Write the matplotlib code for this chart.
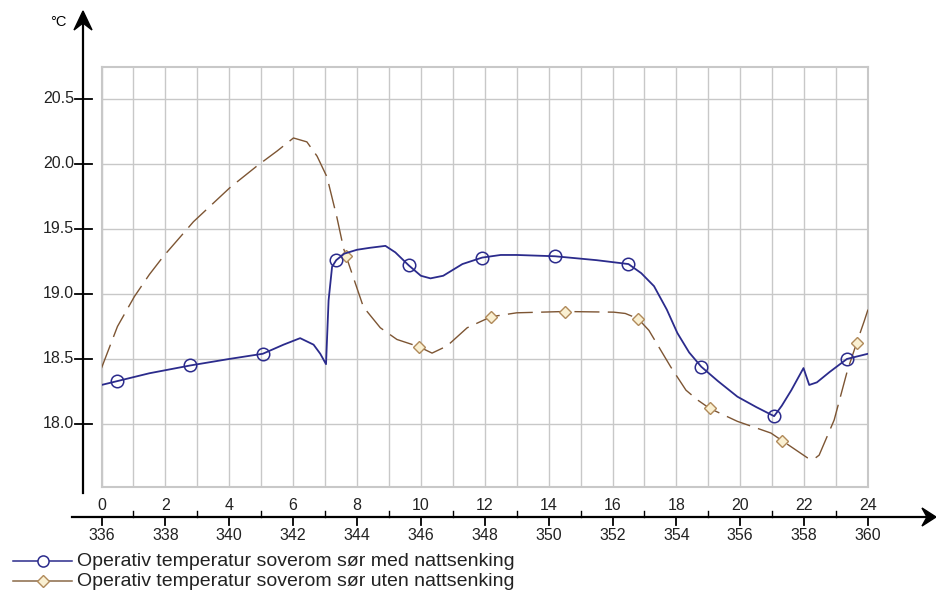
import matplotlib
matplotlib.use("Agg")
import matplotlib.pyplot as plt
import matplotlib.transforms as mtransforms
from matplotlib.lines import Line2D
from matplotlib.patches import Polygon

plt.rcParams["font.family"] = ["Liberation Sans", "DejaVu Sans"]

# ---- data -------------------------------------------------------------
hours_med = [0.0, 0.5, 1.5, 2.78, 4.0, 5.05, 5.7, 6.22, 6.64, 6.85, 7.03,
             7.11, 7.22, 7.35, 7.6, 8.0, 8.4, 8.89, 9.2, 9.62, 10.0, 10.3,
             10.7, 11.3, 11.92, 12.5, 13.0, 14.2, 15.5, 16.5, 16.9, 17.3,
             17.7, 18.03, 18.4, 18.78, 19.3, 19.91, 20.5, 21.06, 21.3, 21.6,
             21.98, 22.16, 22.4, 22.8, 23.34, 24.0]
temp_med = [18.30, 18.33, 18.39, 18.45, 18.50, 18.54, 18.61, 18.66, 18.61,
            18.54, 18.46, 18.95, 19.21, 19.26, 19.31, 19.34, 19.355, 19.37,
            19.32, 19.22, 19.14, 19.12, 19.14, 19.23, 19.28, 19.30, 19.30,
            19.29, 19.26, 19.23, 19.16, 19.06, 18.88, 18.70, 18.55, 18.44,
            18.33, 18.21, 18.13, 18.06, 18.14, 18.26, 18.43, 18.30, 18.32,
            18.40, 18.50, 18.54]
marks_med = [0.5, 2.78, 5.05, 7.35, 9.62, 11.92, 14.2, 16.5, 18.78, 21.06, 23.34]

hours_uten = [0.0, 0.5, 1.03, 1.5, 1.94, 2.88, 4.03, 4.87, 5.5, 6.01, 6.43,
              6.75, 7.06, 7.37, 7.58, 7.66, 8.2, 8.73, 9.25, 9.93, 10.35,
              10.82, 11.45, 12.2, 13.0, 14.5, 16.04, 16.4, 16.8, 17.14, 17.82,
              18.3, 18.66, 19.04, 19.91, 20.96, 21.32, 22.1, 22.31, 22.47,
              22.94, 23.36, 23.64, 23.88, 24.0]
temp_uten = [18.43, 18.75, 18.98, 19.15, 19.29, 19.556, 19.82, 19.985, 20.10,
             20.20, 20.17, 20.06, 19.90, 19.59, 19.35, 19.29, 18.90, 18.74,
             18.65, 18.595, 18.545, 18.60, 18.74, 18.825, 18.855, 18.865,
             18.86, 18.85, 18.81, 18.72, 18.44, 18.26, 18.185, 18.12, 18.02,
             17.93, 17.87, 17.74, 17.73, 17.76, 18.03, 18.415, 18.62, 18.79,
             18.88]
marks_uten = [7.66, 9.93, 12.2, 14.5, 16.8, 19.04, 21.32, 23.64]

y_ticks = [18.0, 18.5, 19.0, 19.5, 20.0, 20.5]
y_labels = ["18.0", "18.5", "19.0", "19.5", "20.0", "20.5"]
hour_ticks = list(range(0, 25, 2))
hour_labels = [str(h) for h in hour_ticks]
sim_labels = [str(336 + h) for h in hour_ticks]

name_med = "Operativ temperatur soverom sør med nattsenking"
name_uten = "Operativ temperatur soverom sør uten nattsenking"

# ---- styling ----------------------------------------------------------
W, H = 936, 595
C_MED = "#2b2b8c"
C_UTEN = "#7d5533"
C_UTEN_EDGE = "#b08a5a"
C_UTEN_FACE = "#faf0d2"
C_GRID = "#c8c8c8"


def fx(x):
    return x / W


def fy(y):
    return 1 - y / H


fig = plt.figure(figsize=(W / 100, H / 100), dpi=100)
fig.patch.set_facecolor("white")

ax = fig.add_axes([fx(101.5), fy(487), (868 - 101.5) / W, (487 - 67) / H])
ax.set_xlim(0, 24)
ax.set_ylim(17.515, 20.746)
ax.set_xticks(range(25))
ax.set_yticks(y_ticks)
ax.grid(True, color=C_GRID, lw=1.0)
ax.tick_params(length=0, labelbottom=False, labelleft=False)
for s in ax.spines.values():
    s.set_color(C_GRID)
    s.set_linewidth(1.5)

ax.plot(hours_med, temp_med, color=C_MED, lw=1.3, marker="o",
        markevery=[hours_med.index(h) for h in marks_med], ms=9,
        mfc="none", mec=C_MED, mew=1.1, zorder=4)
ax.plot(hours_uten, temp_uten, color=C_UTEN, lw=1.0, dashes=(18, 6),
        marker="D", markevery=[hours_uten.index(h) for h in marks_uten],
        ms=6.5, mfc=C_UTEN_FACE, mec=C_UTEN_EDGE, mew=1.0, zorder=3)

# ---- free-standing axes with arrows ------------------------------------
tf = fig.transFigure
fig.add_artist(Line2D([fx(83), fx(83)], [fy(493), fy(20)], transform=tf,
                      color="black", lw=1.6))
fig.add_artist(Line2D([fx(72), fx(928)], [fy(517), fy(517)], transform=tf,
                      color="black", lw=1.6))
# arrow heads
fig.add_artist(Polygon([(fx(83), fy(11)), (fx(92), fy(30)), (fx(83), fy(23)),
                        (fx(74), fy(30))], closed=True, transform=tf,
                       color="black"))
fig.add_artist(Polygon([(fx(936), fy(517)), (fx(922), fy(508)),
                        (fx(927), fy(517)), (fx(922), fy(526))], closed=True,
                       transform=tf, color="black"))
fig.text(fx(58), fy(22), "°C", ha="center", va="center", fontsize=10.5)

trans_y = mtransforms.blended_transform_factory(tf, ax.transData)
for v, lab in zip(y_ticks, y_labels):
    fig.add_artist(Line2D([fx(75), fx(92)], [v, v], transform=trans_y,
                          color="black", lw=1.3))
    fig.text(fx(74), v, lab, transform=trans_y, ha="right", va="center",
             fontsize=11.5, color="#222222")

trans_x = mtransforms.blended_transform_factory(ax.transData, tf)
for h in range(25):
    if h % 2 == 0:
        fig.add_artist(Line2D([h, h], [fy(517), fy(525)], transform=trans_x,
                              color="black", lw=1.3))
    else:
        fig.add_artist(Line2D([h, h], [fy(511), fy(517)], transform=trans_x,
                              color="black", lw=1.0))
for h, top, bot in zip(hour_ticks, hour_labels, sim_labels):
    fig.text(h, fy(506), top, transform=trans_x, ha="center", va="center",
             fontsize=11.5, color="#222222")
    fig.text(h, fy(535), bot, transform=trans_x, ha="center", va="center",
             fontsize=11.5, color="#222222")

# ---- legend -----------------------------------------------------------
for ypix, name, col, mk, kw in [
        (561, name_med, C_MED, "o", dict(ms=8, mfc="white", mec=C_MED, mew=1.1)),
        (581, name_uten, "#8a6a48", "D", dict(ms=6, mfc=C_UTEN_FACE,
                                              mec=C_UTEN_EDGE, mew=1.0))]:
    fig.add_artist(Line2D([fx(13), fx(72)], [fy(ypix), fy(ypix)], transform=tf,
                          color=col, lw=1.1))
    fig.add_artist(Line2D([fx(43)], [fy(ypix)], transform=tf, marker=mk,
                          linestyle="none", **kw))
    fig.text(fx(77), fy(ypix), name, ha="left", va="center", fontsize=14,
             color="#222222")

fig.savefig("out.png", dpi=100, facecolor="white")
